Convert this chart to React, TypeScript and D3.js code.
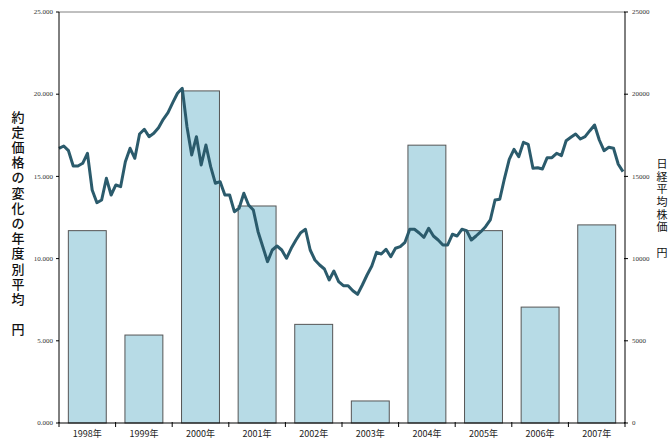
import React from "react";
import * as d3 from "d3";

const years = ["1998年", "1999年", "2000年", "2001年", "2002年", "2003年", "2004年", "2005年", "2006年", "2007年"];
const contractPrice = [11700, 5350, 20200, 13200, 6000, 1340, 16900, 11700, 7050, 12050];
const nikkeiMonthly = [
  16710, 16850, 16564, 15633, 15633, 15797, 16406, 14173, 13401, 13565, 14885, 13869,
  14478, 14374, 15895, 16710, 16101, 17580, 17865, 17416, 17622, 17963, 18474, 18876,
  19484, 20055, 20360, 18024, 16302, 17416, 15694, 16911, 15591, 14581, 14678, 13869,
  13869, 12853, 13060, 13972, 13261, 12957, 11637, 10724, 9812, 10524, 10767, 10524,
  10019, 10627, 11132, 11576, 11783, 10524, 9915, 9611, 9368, 8699, 9246, 8595,
  8352, 8352, 8048, 7829, 8395, 9003, 9550, 10384, 10280, 10566, 10116, 10627,
  10724, 10992, 11783, 11783, 11558, 11296, 11844, 11375, 11132, 10828, 10828, 11479,
  11375, 11783, 11698, 11132, 11375, 11637, 11941, 12349, 13565, 13608, 14885, 16041,
  16649, 16199, 17075, 16953, 15493, 15530, 15451, 16138, 16138, 16406, 16260, 17172,
  17379, 17580, 17276, 17416, 17781, 18127, 17215, 16564, 16771, 16710, 15737, 15287,
];
const leftTicks = [0, 5000, 10000, 15000, 20000, 25000];
const leftTickLabels = ["0.000", "5.000", "10.000", "15.000", "20.000", "25.000"];
const rightTicks = [0, 5000, 10000, 15000, 20000, 25000];
const leftTitle = ["約", "定", "価", "格", "の", "変", "化", "の", "年", "度", "別", "平", "均", "", "円"];
const rightTitle = ["日", "経", "平", "均", "株", "価", "", "円"];

export default function App() {
  const W = 670, H = 442;
  const m = { left: 59, right: 45, top: 12, bottom: 19 };
  const iw = W - m.left - m.right;
  const ih = H - m.top - m.bottom;

  const x = d3.scaleBand<string>().domain(years).range([0, iw]).paddingInner(0.33).paddingOuter(0.165);
  const yL = d3.scaleLinear().domain([0, 25000]).range([ih, 0]);
  const yR = d3.scaleLinear().domain([0, 25000]).range([ih, 0]);
  const xm = d3.scaleLinear().domain([0, nikkeiMonthly.length - 1]).range([0, iw - 2]);
  const line = d3.line<number>().x((_, i) => xm(i)).y((d) => yR(d));

  const serif = "'Liberation Serif', 'DejaVu Serif', serif";
  const cjk = "'Noto Sans CJK JP', sans-serif";
  const step = x.step();

  return (
    <svg width={W} height={H} style={{ position: "absolute", left: 0, top: 0, background: "#fff" }}>
      <g transform={`translate(${m.left},${m.top})`}>
        <line x1={0} x2={iw} y1={0} y2={0} stroke="#808080" strokeWidth={1} />
        {years.map((yr, i) => (
          <rect
            key={yr}
            x={x(yr)}
            y={yL(contractPrice[i])}
            width={x.bandwidth()}
            height={ih - yL(contractPrice[i])}
            fill="#b7dbe6"
            stroke="#555"
            strokeWidth={1}
          />
        ))}
        <path d={line(nikkeiMonthly) || ""} fill="none" stroke="#2b5b6c" strokeWidth={3} strokeLinejoin="round" />
        <line x1={0} x2={0} y1={0} y2={ih} stroke="#000" strokeWidth={1} />
        {leftTicks.map((t, i) => (
          <g key={t} transform={`translate(0,${yL(t)})`}>
            <line x1={-3} x2={0} stroke="#000" />
            <text x={-6} dy="0.32em" textAnchor="end" fontFamily={serif} fontSize={7} fill="#333">
              {leftTickLabels[i]}
            </text>
          </g>
        ))}
        <line x1={iw} x2={iw} y1={0} y2={ih} stroke="#000" strokeWidth={1} />
        {rightTicks.map((t) => (
          <g key={t} transform={`translate(${iw},${yR(t)})`}>
            <line x1={-1} x2={3} stroke="#000" />
            <text x={7} dy="0.32em" textAnchor="start" fontFamily={serif} fontSize={7} fill="#333">
              {t}
            </text>
          </g>
        ))}
        <line x1={0} x2={iw} y1={ih} y2={ih} stroke="#000" strokeWidth={1} />
        {d3.range(years.length + 1).map((i) => (
          <line key={i} x1={i * step} x2={i * step} y1={ih - 1} y2={ih + 4} stroke="#000" />
        ))}
        {years.map((yr) => (
          <text
            key={yr}
            x={(x(yr) || 0) + x.bandwidth() / 2}
            y={ih + 14}
            textAnchor="middle"
            fontFamily={cjk}
            fontSize={9}
            fill="#222"
          >
            {yr}
          </text>
        ))}
      </g>
      <g fontFamily={cjk} fontSize={13} fontWeight={500} fill="#111" textAnchor="middle">
        {leftTitle.map((c, i) => (
          <text key={i} x={18} y={117 + i * 15.2} dy="0.35em">
            {c}
          </text>
        ))}
      </g>
      <g fontFamily={cjk} fontSize={11} fill="#111" textAnchor="middle">
        {rightTitle.map((c, i) => (
          <text key={i} x={662} y={164 + i * 12.7} dy="0.35em">
            {c}
          </text>
        ))}
      </g>
    </svg>
  );
}
